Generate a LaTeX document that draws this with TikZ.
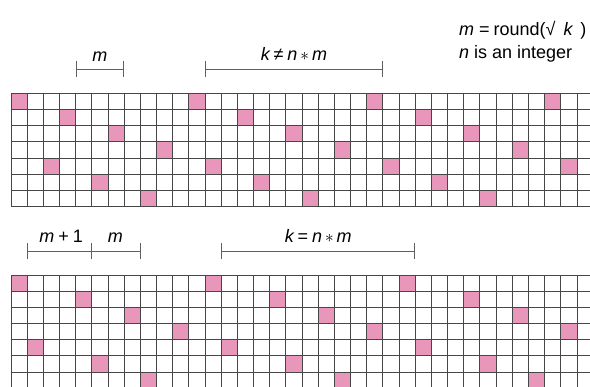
\documentclass[tikz,border=0pt]{standalone}
\usepackage{fontspec}
\setmainfont{Liberation Sans}
\usetikzlibrary{positioning, arrows.meta}
\definecolor{cellpink}{RGB}{232,150,186}
\definecolor{gridline}{RGB}{70,70,70}
\tikzset{
    cell/.style={
        fill=cellpink
    },
    gridrule/.style={
        draw=gridline,
        line width=0.9pt
    },
    span/.style={
        draw=gray!75!black,
        line width=0.8pt,
        {Bar[width=16pt]}-{Bar[width=16pt]}
    },
    spantext/.style={
        font=\fontsize{18}{20}\selectfont,
        inner sep=0pt,
        anchor=base
    }
}

\begin{document}
\begin{tikzpicture}[x=1pt, y=-1pt]
            % Help lines :
            % \draw [help lines] (0,0) grid (590,387);
            \useasboundingbox (0,0) rectangle (590,387);
            \clip (0,0) rectangle (590,387);

            % Formula
            \node (formula) [spantext, anchor=base west] at (459,36)
                {\textit{m}\hspace{5pt}=\hspace{4pt}round(√\hspace{8pt}\textit{k}\hspace{7pt})};
            \node (integer) [spantext, anchor=base west] at (459,58.5)
                {\textit{n} is an integer};

            % Upper grid, k not a multiple of m
            \begin{scope}[shift={(11,93.3)}, x=16.17pt, y=-16.17pt]
                \foreach \c/\r in {0/0, 11/0, 22/0, 33/0,
                                   3/1, 14/1, 25/1,
                                   6/2, 17/2, 28/2,
                                   9/3, 20/3, 31/3,
                                   2/4, 12/4, 23/4, 34/4,
                                   5/5, 15/5, 26/5,
                                   8/6, 18/6, 29/6}
                    \fill [cell] (\c,\r) rectangle ++(1,1);
                \foreach \i in {0,...,36}
                    \draw [gridrule] (\i,0) -- (\i,7);
                \foreach \j in {0,...,7}
                    \draw [gridrule] (0,\j) -- (37,\j);

                % Spans
                \coordinate (mA) at (4,-1.5);
                \coordinate (mB) at (7,-1.5);
                \coordinate (kA) at (12,-1.5);
                \coordinate (kB) at (23,-1.5);
                \draw [span] (mA) -- (mB);
                \draw [span] (kA) -- (kB);
                \node (mTop) [spantext] at (5.5,-1.96) {\textit{m}};
                \node (kTop) [spantext] at (17.5,-2.02)
                    {\textit{k}\,≠\hspace{4pt}\textit{n}\hspace{3pt}$\ast$\,\textit{m}};
            \end{scope}

            % Lower grid, k = n * m
            \begin{scope}[shift={(11,275)}, x=16.17pt, y=-16.17pt]
                \foreach \c/\r in {0/0, 12/0, 24/0,
                                   4/1, 16/1, 28/1,
                                   7/2, 19/2, 31/2,
                                   10/3, 22/3, 34/3,
                                   1/4, 13/4, 25/4,
                                   5/5, 17/5, 29/5,
                                   8/6, 20/6, 32/6}
                    \fill [cell] (\c,\r) rectangle ++(1,1);
                \foreach \i in {0,...,36}
                    \draw [gridrule] (\i,0) -- (\i,7);
                \foreach \j in {0,...,7}
                    \draw [gridrule] (0,\j) -- (37,\j);

                % Spans
                \coordinate (pA) at (1,-1.49);
                \coordinate (pB) at (5,-1.49);
                \coordinate (qB) at (8,-1.49);
                \coordinate (nA) at (13,-1.49);
                \coordinate (nB) at (25,-1.49);
                \draw [span] (pA) -- (pB);
                \draw [span, -{Bar[width=16pt]}] (pB) -- (qB);
                \draw [span] (nA) -- (nB);
                \node (mPlus) [spantext] at (3.1,-2.02)
                    {\textit{m}\hspace{4pt}+\hspace{4pt}1};
                \node (mLow) [spantext] at (6.45,-2.02) {\textit{m}};
                \node (kLow) [spantext] at (19,-2.02)
                    {\textit{k}\hspace{3pt}=\hspace{4pt}\textit{n}\hspace{3pt}$\ast$\,\textit{m}};
            \end{scope}
\end{tikzpicture}
\end{document}
